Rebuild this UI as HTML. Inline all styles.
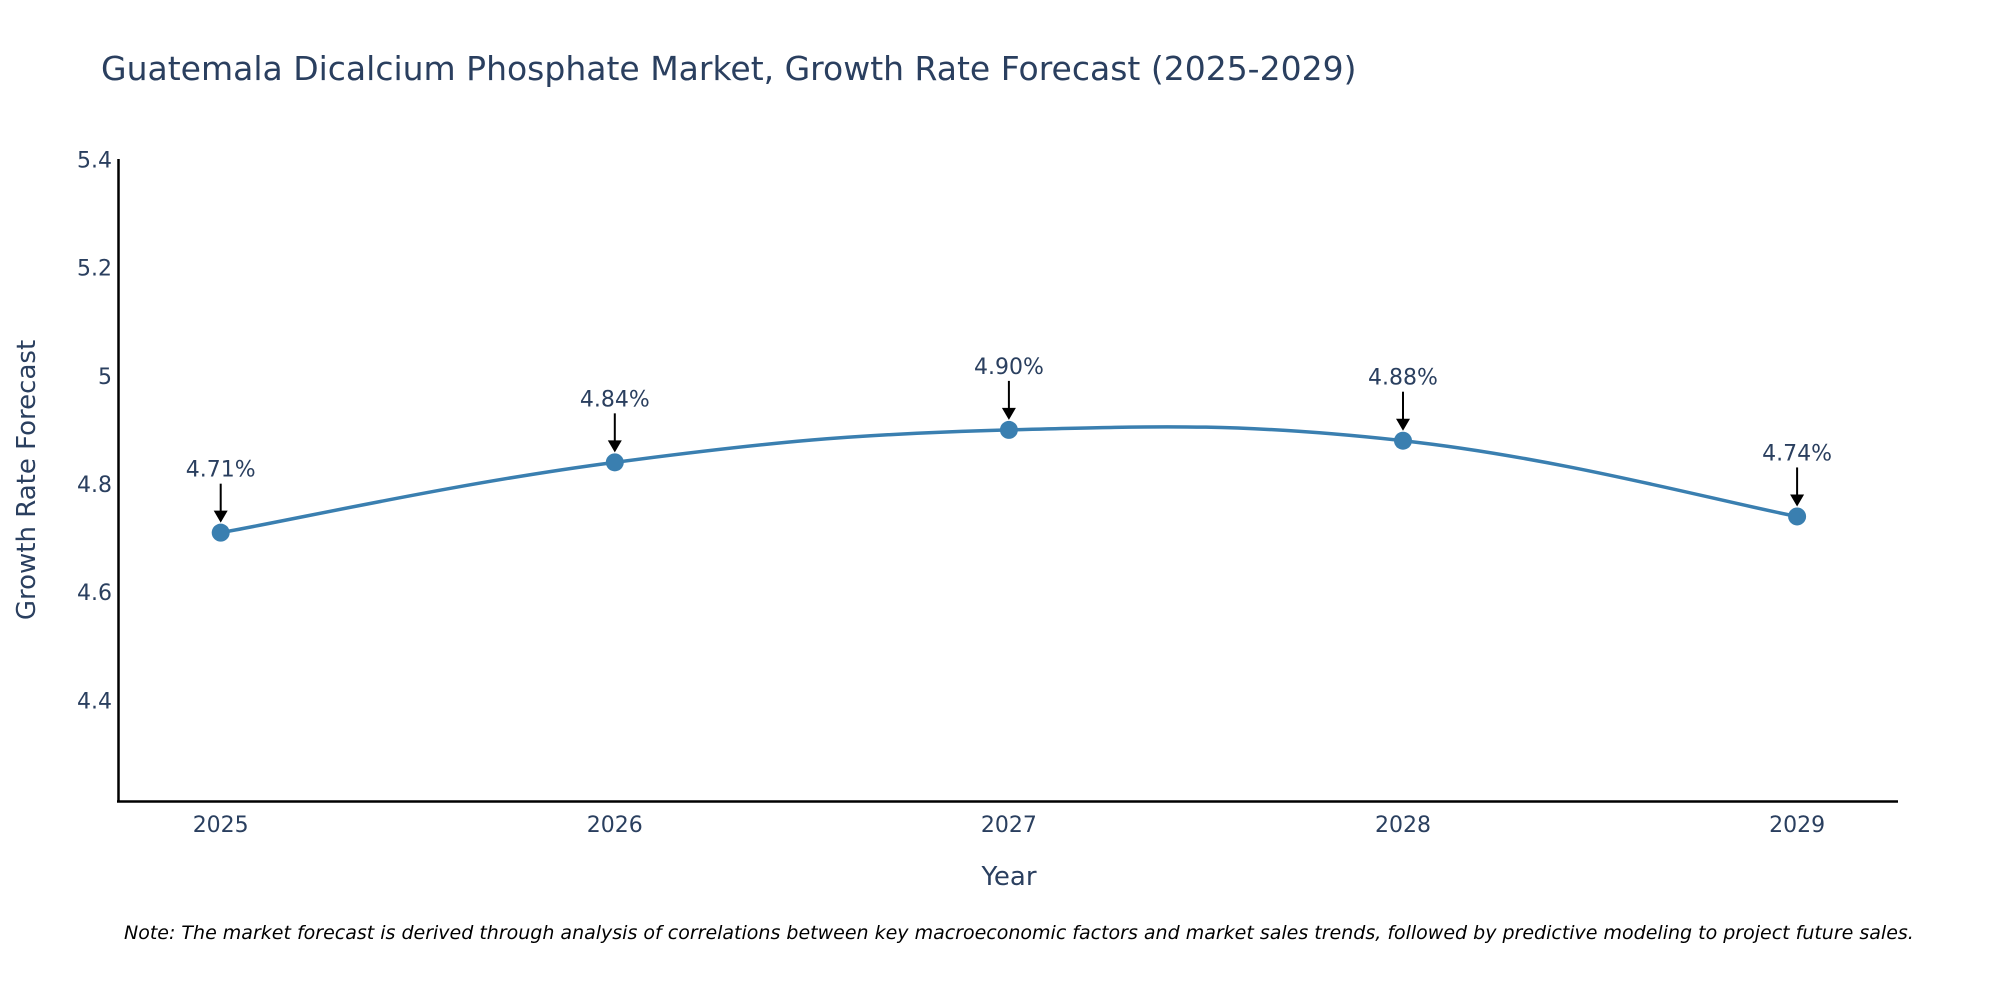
<!DOCTYPE html>
<html><head><meta charset="utf-8"><style>
html,body{margin:0;padding:0;background:#fff;}
svg{display:block;font-family:"DejaVu Sans","Liberation Sans",sans-serif;}
</style></head><body>
<svg id="chart" width="2000" height="1000" viewBox="0 0 2000 1000">
<text x="101" y="80" font-size="33" fill="#2a3f5f">Guatemala Dicalcium Phosphate Market, Growth Rate Forecast (2025-2029)</text>
<line x1="118.5" y1="159" x2="118.5" y2="802" stroke="#000" stroke-width="2.5"/>
<line x1="117" y1="801.5" x2="1898" y2="801.5" stroke="#000" stroke-width="2.5"/>
<g id="yticks"></g><g id="xticks"></g>
<path id="series" fill="none" stroke="#3a7fb0" stroke-width="3.5"/>
<g id="points"></g><g id="annots"></g>
<text x="1009" y="885" font-size="26" fill="#2a3f5f" text-anchor="middle">Year</text>
<text transform="translate(35,480) rotate(-90)" font-size="26" fill="#2a3f5f" text-anchor="middle">Growth Rate Forecast</text>
<text x="124" y="939" font-size="19" font-style="italic" fill="#000">Note: The market forecast is derived through analysis of correlations between key macroeconomic factors and market sales trends, followed by predictive modeling to project future sales.</text>
</svg>
<script>
const categories = [2025, 2026, 2027, 2028, 2029];
const values = [4.71, 4.84, 4.90, 4.88, 4.74];
const valueLabels = ["4.71%", "4.84%", "4.90%", "4.88%", "4.74%"];
const yTicks = [4.4, 4.6, 4.8, 5, 5.2, 5.4];
const yTickLabels = ["4.4", "4.6", "4.8", "5", "5.2", "5.4"];

const NS = "http://www.w3.org/2000/svg";
const yMin = 4.214, yMax = 5.4, plotTop = 159.4, plotBottom = 801;
function yScale(v){ return plotBottom - (v - yMin) / (yMax - yMin) * (plotBottom - plotTop); }
function xScale(i){ return 220.7 + i * 394.1; }
function mk(tag, attrs, parent){ const e = document.createElementNS(NS, tag); for (const k in attrs) e.setAttribute(k, attrs[k]); parent.appendChild(e); return e; }

const yt = document.getElementById('yticks');
yTicks.forEach((v, i) => {
  const t = mk('text', {x: 112, y: yScale(v) + 8, 'font-size': 22, fill: '#2a3f5f', 'text-anchor': 'end'}, yt);
  t.textContent = yTickLabels[i];
  
  
});
const xt = document.getElementById('xticks');
categories.forEach((c, i) => {
  const t = mk('text', {x: xScale(i), y: 832, 'font-size': 22, fill: '#2a3f5f', 'text-anchor': 'middle'}, xt);
  t.textContent = c;
  
  
});

const pts = values.map((v, i) => [xScale(i), yScale(v)]);
let d = `M${pts[0][0]},${pts[0][1]}`;
const s = 0.2;
for (let i = 0; i < pts.length - 1; i++) {
  const p0 = pts[Math.max(0, i - 1)], p1 = pts[i], p2 = pts[i + 1], p3 = pts[Math.min(pts.length - 1, i + 2)];
  const c1 = [p1[0] + (p2[0] - p0[0]) * s, p1[1] + (p2[1] - p0[1]) * s];
  const c2 = [p2[0] - (p3[0] - p1[0]) * s, p2[1] - (p3[1] - p1[1]) * s];
  d += ` C${c1[0]},${c1[1]} ${c2[0]},${c2[1]} ${p2[0]},${p2[1]}`;
}
document.getElementById('series').setAttribute('d', d);

const pg = document.getElementById('points');
const ag = document.getElementById('annots');
pts.forEach((p, i) => {
  const c = mk('circle', {cx: p[0], cy: p[1], r: 9, fill: '#3a7fb0'}, pg);
  
  
  const l = mk('line', {x1: p[0], y1: p[1] - 49, x2: p[0], y2: p[1] - 20, stroke: '#000', 'stroke-width': 2}, ag);
  
  
  const h = mk('path', {d: `M${p[0]-7},${p[1]-22} L${p[0]+7},${p[1]-22} L${p[0]},${p[1]-10} Z`, fill: '#000'}, ag);
  
  
  const t = mk('text', {x: p[0], y: p[1] - 56, 'font-size': 22, fill: '#2a3f5f', 'text-anchor': 'middle'}, ag);
  t.textContent = valueLabels[i];
  
  
});
</script>
</body></html>
